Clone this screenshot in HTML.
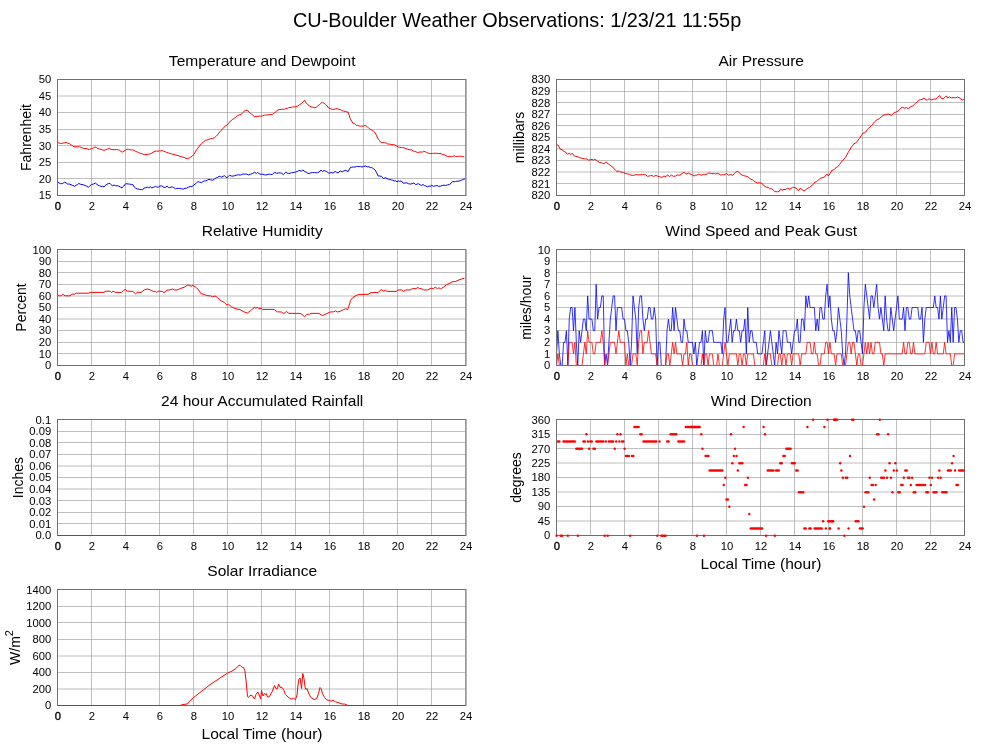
<!DOCTYPE html>
<html><head><meta charset="utf-8"><title>CU-Boulder Weather Observations</title>
<style>html,body{margin:0;padding:0;background:#fff;}svg{display:block;will-change:transform;}text{font-family:"Liberation Sans", sans-serif;fill:#000;}</style>
</head><body>
<svg width="1000" height="745" viewBox="0 0 1000 745">
<rect x="0" y="0" width="1000" height="745" fill="#ffffff"/>
<text x="517.1" y="26.8" font-size="19.85" text-anchor="middle">CU-Boulder Weather Observations: 1/23/21 11:55p</text>
<line x1="91.50" y1="79.5" x2="91.50" y2="195.5" stroke="rgba(155,155,155,0.64)" stroke-width="1"/>
<line x1="125.50" y1="79.5" x2="125.50" y2="195.5" stroke="rgba(155,155,155,0.64)" stroke-width="1"/>
<line x1="159.50" y1="79.5" x2="159.50" y2="195.5" stroke="rgba(155,155,155,0.64)" stroke-width="1"/>
<line x1="193.50" y1="79.5" x2="193.50" y2="195.5" stroke="rgba(155,155,155,0.64)" stroke-width="1"/>
<line x1="227.50" y1="79.5" x2="227.50" y2="195.5" stroke="rgba(155,155,155,0.64)" stroke-width="1"/>
<line x1="261.50" y1="79.5" x2="261.50" y2="195.5" stroke="rgba(155,155,155,0.64)" stroke-width="1"/>
<line x1="295.50" y1="79.5" x2="295.50" y2="195.5" stroke="rgba(155,155,155,0.64)" stroke-width="1"/>
<line x1="329.50" y1="79.5" x2="329.50" y2="195.5" stroke="rgba(155,155,155,0.64)" stroke-width="1"/>
<line x1="363.50" y1="79.5" x2="363.50" y2="195.5" stroke="rgba(155,155,155,0.64)" stroke-width="1"/>
<line x1="397.50" y1="79.5" x2="397.50" y2="195.5" stroke="rgba(155,155,155,0.64)" stroke-width="1"/>
<line x1="431.50" y1="79.5" x2="431.50" y2="195.5" stroke="rgba(155,155,155,0.64)" stroke-width="1"/>
<text x="51.2" y="199" font-size="11.25" text-anchor="end">15</text>
<line x1="57.5" y1="178.50" x2="465.5" y2="178.50" stroke="rgba(155,155,155,0.64)" stroke-width="1"/>
<text x="51.2" y="183" font-size="11.25" text-anchor="end">20</text>
<line x1="57.5" y1="162.50" x2="465.5" y2="162.50" stroke="rgba(155,155,155,0.64)" stroke-width="1"/>
<text x="51.2" y="166" font-size="11.25" text-anchor="end">25</text>
<line x1="57.5" y1="145.50" x2="465.5" y2="145.50" stroke="rgba(155,155,155,0.64)" stroke-width="1"/>
<text x="51.2" y="150" font-size="11.25" text-anchor="end">30</text>
<line x1="57.5" y1="129.50" x2="465.5" y2="129.50" stroke="rgba(155,155,155,0.64)" stroke-width="1"/>
<text x="51.2" y="133" font-size="11.25" text-anchor="end">35</text>
<line x1="57.5" y1="112.50" x2="465.5" y2="112.50" stroke="rgba(155,155,155,0.64)" stroke-width="1"/>
<text x="51.2" y="116" font-size="11.25" text-anchor="end">40</text>
<line x1="57.5" y1="96.00" x2="465.5" y2="96.00" stroke="rgba(155,155,155,0.64)" stroke-width="1"/>
<text x="51.2" y="100" font-size="11.25" text-anchor="end">45</text>
<text x="51.2" y="83" font-size="11.25" text-anchor="end">50</text>
<text x="58.00" y="210.0" font-size="11.25" text-anchor="middle" stroke="#000" stroke-width="0.35">0</text>
<text x="92.00" y="210.0" font-size="11.25" text-anchor="middle">2</text>
<text x="126.00" y="210.0" font-size="11.25" text-anchor="middle">4</text>
<text x="160.00" y="210.0" font-size="11.25" text-anchor="middle">6</text>
<text x="194.00" y="210.0" font-size="11.25" text-anchor="middle">8</text>
<text x="228.00" y="210.0" font-size="11.25" text-anchor="middle">10</text>
<text x="262.00" y="210.0" font-size="11.25" text-anchor="middle">12</text>
<text x="296.00" y="210.0" font-size="11.25" text-anchor="middle">14</text>
<text x="330.00" y="210.0" font-size="11.25" text-anchor="middle">16</text>
<text x="364.00" y="210.0" font-size="11.25" text-anchor="middle">18</text>
<text x="398.00" y="210.0" font-size="11.25" text-anchor="middle">20</text>
<text x="432.00" y="210.0" font-size="11.25" text-anchor="middle">22</text>
<text x="466.00" y="210.0" font-size="11.25" text-anchor="middle">24</text>
<text x="262.2" y="66.0" font-size="15.55" text-anchor="middle">Temperature and Dewpoint</text>
<text transform="translate(31.4,137.5) rotate(-90)" font-size="14" text-anchor="middle">Fahrenheit</text>
<polyline points="57.56,181.43 59.18,183.07 60.80,183.78 62.60,183.48 64.40,182.29 66.00,182.85 67.60,184.01 69.20,184.08 71.00,184.67 72.80,185.52 74.60,186.28 76.00,185.23 77.40,184.68 78.80,183.53 80.40,184.18 82.00,184.64 83.60,184.87 85.20,185.54 86.80,186.22 88.40,187.33 89.90,185.97 91.40,184.55 93.38,184.06 95.36,183.07 98.00,185.22 99.50,185.76 101.00,186.35 102.50,186.35 104.00,186.93 105.50,185.16 107.00,184.26 108.50,183.49 110.00,183.40 112.40,185.91 114.00,184.98 115.60,185.82 117.20,185.69 118.80,186.19 120.40,187.09 122.00,187.79 123.80,186.01 125.60,183.74 127.04,183.83 128.48,184.01 129.92,184.10 131.36,184.56 132.80,184.54 134.30,187.10 135.80,188.32 137.60,188.93 139.40,189.37 141.20,189.45 142.70,189.85 144.20,187.93 145.70,187.80 147.20,187.01 148.70,187.74 150.20,186.84 151.70,187.82 153.20,187.44 155.60,186.40 156.80,187.21 158.40,187.06 160.00,186.04 161.60,185.82 164.10,187.46 165.51,187.52 166.92,185.98 168.33,187.43 169.74,187.62 171.15,187.01 172.56,187.02 173.97,187.51 175.38,188.81 176.79,188.45 178.20,188.38 179.61,188.42 181.51,188.78 183.42,189.14 185.04,188.17 186.66,188.22 188.42,187.10 190.19,186.63 191.95,186.41 193.71,185.20 195.12,184.17 196.53,182.84 197.94,181.68 199.70,182.16 201.47,182.69 202.88,181.59 204.29,180.91 205.70,180.85 207.34,180.08 208.99,179.28 210.63,179.83 212.75,180.24 214.51,178.94 216.27,177.86 217.68,177.43 219.09,176.27 220.50,176.70 221.91,177.12 224.31,175.65 226.85,177.80 228.26,176.45 229.67,175.25 231.43,176.05 233.19,176.10 234.95,175.61 236.72,175.00 238.48,174.83 240.24,175.05 241.65,174.65 243.06,173.93 244.83,174.15 246.59,174.06 248.70,175.00 250.47,174.25 252.23,173.61 254.62,172.33 256.46,173.46 257.45,172.44 259.98,174.15 261.39,174.36 262.80,174.13 264.21,174.77 265.62,174.89 267.03,174.77 268.84,174.14 270.64,174.48 272.45,174.49 274.56,172.28 276.68,173.34 278.44,172.96 280.20,172.95 281.75,173.29 283.30,174.60 285.84,172.12 287.25,173.17 288.66,173.62 290.07,173.27 291.48,172.64 292.89,172.58 294.30,172.27 295.71,172.11 297.12,171.57 298.53,170.74 299.94,170.49 301.35,171.35 302.76,169.91 304.88,171.66 306.29,172.24 307.70,173.14 309.11,173.63 310.87,172.72 312.63,172.59 314.39,172.56 316.16,172.70 317.57,172.69 318.98,172.01 321.09,170.17 322.50,171.52 324.19,170.51 326.73,171.60 328.85,173.16 330.96,172.67 333.08,172.97 335.19,171.45 336.60,172.27 338.01,172.91 340.13,170.98 342.24,171.87 344.01,170.84 345.77,170.53 348.16,171.53 350.28,167.61 351.90,167.13 353.52,166.96 354.93,167.13 356.34,166.41 357.75,166.56 359.16,166.57 360.57,166.35 361.98,167.09 363.17,166.51 365.56,166.10 367.40,166.77 368.81,166.71 370.22,167.61 371.63,167.51 373.39,168.59 375.15,170.00 376.56,172.51 377.97,175.90 379.73,176.00 381.50,176.44 383.61,178.44 385.73,177.78 387.14,178.65 388.55,179.12 389.96,179.53 391.37,180.01 392.78,180.23 394.19,180.99 395.60,180.72 397.01,181.82 398.42,180.93 399.83,181.40 401.24,180.80 403.35,183.31 405.11,182.88 406.88,182.96 408.64,183.76 410.40,184.08 412.16,183.61 413.93,182.98 415.34,184.39 416.75,184.34 418.16,183.67 420.27,184.81 421.68,185.45 423.09,184.48 424.50,185.59 425.91,185.98 427.32,186.80 429.08,186.01 430.85,186.26 431.55,185.20 433.67,186.38 435.78,185.69 437.19,185.57 438.60,186.39 440.36,186.13 442.13,185.56 443.89,185.19 445.65,185.45 447.42,184.96 449.18,184.50 450.94,183.47 452.70,181.44 454.11,181.72 455.52,181.44 457.29,181.21 459.05,181.15 460.81,180.36 462.57,179.68 463.98,179.18 465.39,178.62" fill="none" stroke="#0000ff" stroke-width="1.0" stroke-linejoin="round"/>
<polyline points="57.56,142.41 59.18,143.09 60.80,143.51 62.60,143.19 64.40,142.83 66.20,142.24 67.70,143.19 69.20,143.42 70.80,144.69 72.40,145.62 74.00,146.68 75.80,146.72 77.60,146.72 79.40,146.68 81.20,147.30 83.00,148.25 84.80,148.57 86.40,148.48 88.00,149.24 89.60,149.48 91.40,148.62 93.20,148.10 95.00,146.92 96.50,147.41 98.00,148.70 99.50,149.03 101.00,149.31 102.50,149.81 104.00,150.32 105.80,149.76 107.60,148.99 109.40,148.41 111.20,149.49 113.00,149.68 114.80,149.60 116.60,149.63 118.40,149.82 119.80,150.34 121.20,151.65 122.60,151.98 124.00,151.07 125.40,150.31 126.80,149.19 128.30,149.36 129.80,149.69 131.30,149.86 132.80,149.86 134.30,150.48 135.80,151.49 137.30,151.99 138.80,152.55 140.60,153.52 142.40,153.78 144.20,154.67 146.00,154.61 147.80,154.32 149.60,154.05 151.40,153.31 153.20,152.21 155.00,151.28 156.44,151.03 157.88,151.33 159.32,150.79 160.76,150.96 162.20,150.64 163.71,151.10 165.22,151.88 166.72,152.39 168.23,152.95 169.74,153.24 171.15,153.84 172.56,154.31 173.97,154.53 175.38,154.94 176.79,155.34 178.20,155.43 179.79,156.41 181.37,156.39 182.96,157.31 184.55,157.52 185.96,158.40 187.37,158.47 188.92,158.23 190.47,157.25 192.02,156.35 193.92,154.34 195.83,151.13 197.24,149.03 198.65,147.14 200.06,145.18 201.82,143.33 203.58,141.85 205.34,140.38 207.11,140.04 208.87,139.19 210.63,138.74 212.39,138.48 214.16,138.04 215.78,136.64 217.40,135.00 218.95,133.05 220.50,131.04 221.91,129.75 223.32,128.11 225.44,125.76 227.27,125.10 228.82,123.17 230.37,121.13 232.13,119.77 233.90,118.45 235.66,117.36 237.42,115.79 239.18,114.89 240.95,114.73 242.71,112.59 244.47,110.96 245.88,110.54 247.29,110.03 249.06,112.15 250.82,113.59 252.58,115.03 254.34,116.64 256.11,116.64 257.87,116.48 259.63,116.08 261.39,116.15 262.80,115.61 264.21,115.05 265.62,115.17 267.33,114.86 269.03,114.64 270.74,114.58 272.45,114.30 273.86,113.53 275.27,112.04 276.68,110.92 278.09,109.97 279.67,109.45 281.26,109.59 282.84,109.20 284.43,109.27 285.84,108.51 287.25,108.41 288.66,107.66 290.07,107.54 291.48,107.25 292.89,106.97 294.30,106.89 296.06,106.72 297.83,105.95 299.59,104.65 301.35,103.65 302.90,102.07 304.45,100.30 306.08,102.79 307.70,104.58 309.46,105.83 311.22,106.95 312.87,107.20 314.51,107.75 316.16,107.42 317.92,105.70 319.68,104.60 321.09,103.09 322.50,102.24 323.91,103.13 325.32,104.18 327.08,105.94 328.85,108.20 330.61,108.62 332.37,109.57 334.02,109.27 335.66,108.82 337.31,108.56 338.95,109.40 340.60,109.61 342.24,110.73 343.72,111.10 345.20,111.46 346.68,111.77 348.16,112.21 350.28,118.84 352.82,122.98 354.58,123.73 356.34,125.43 357.75,125.40 359.16,126.01 360.57,126.15 361.98,126.15 363.39,126.08 365.56,125.30 367.18,126.58 368.81,128.32 370.57,129.45 372.33,130.30 373.74,131.53 375.15,132.60 376.56,135.62 377.97,138.89 379.38,140.27 380.79,142.36 382.55,142.59 384.32,142.69 385.96,142.89 387.61,143.98 389.25,144.09 390.66,144.36 392.07,144.49 393.48,144.62 394.89,145.00 396.65,146.15 398.42,147.00 399.83,147.29 401.24,147.59 402.65,147.54 404.29,147.95 405.94,148.70 407.58,149.19 408.99,149.65 410.40,149.79 411.81,150.05 413.22,151.07 414.63,151.41 416.04,151.82 417.45,152.49 419.21,152.16 420.98,151.98 422.39,152.11 423.80,151.09 425.21,151.92 426.62,152.31 428.03,153.17 429.44,153.57 430.85,153.62 432.26,153.33 433.67,153.52 435.08,153.10 436.72,153.40 438.37,153.51 440.01,153.50 441.42,153.89 442.83,154.69 444.24,154.61 446.01,155.80 447.77,156.54 449.53,156.63 451.29,156.63 452.70,156.65 454.11,155.70 455.52,156.32 456.93,156.48 458.34,156.31 459.75,156.31 461.16,156.28 462.57,156.45 464.27,157.04" fill="none" stroke="#ff0000" stroke-width="1.0" stroke-linejoin="round"/>
<line x1="465.5" y1="79.5" x2="465.5" y2="195.5" stroke="rgba(155,155,155,0.64)" stroke-width="1"/><rect x="57.5" y="79.5" width="408.5" height="116.0" fill="none" stroke="#707070" stroke-width="1"/>
<line x1="590.50" y1="79.5" x2="590.50" y2="195.5" stroke="rgba(155,155,155,0.64)" stroke-width="1"/>
<line x1="624.50" y1="79.5" x2="624.50" y2="195.5" stroke="rgba(155,155,155,0.64)" stroke-width="1"/>
<line x1="658.50" y1="79.5" x2="658.50" y2="195.5" stroke="rgba(155,155,155,0.64)" stroke-width="1"/>
<line x1="692.50" y1="79.5" x2="692.50" y2="195.5" stroke="rgba(155,155,155,0.64)" stroke-width="1"/>
<line x1="726.50" y1="79.5" x2="726.50" y2="195.5" stroke="rgba(155,155,155,0.64)" stroke-width="1"/>
<line x1="760.50" y1="79.5" x2="760.50" y2="195.5" stroke="rgba(155,155,155,0.64)" stroke-width="1"/>
<line x1="794.50" y1="79.5" x2="794.50" y2="195.5" stroke="rgba(155,155,155,0.64)" stroke-width="1"/>
<line x1="828.50" y1="79.5" x2="828.50" y2="195.5" stroke="rgba(155,155,155,0.64)" stroke-width="1"/>
<line x1="862.50" y1="79.5" x2="862.50" y2="195.5" stroke="rgba(155,155,155,0.64)" stroke-width="1"/>
<line x1="896.50" y1="79.5" x2="896.50" y2="195.5" stroke="rgba(155,155,155,0.64)" stroke-width="1"/>
<line x1="930.50" y1="79.5" x2="930.50" y2="195.5" stroke="rgba(155,155,155,0.64)" stroke-width="1"/>
<text x="550.2" y="199" font-size="11.25" text-anchor="end">820</text>
<line x1="556.5" y1="183.50" x2="964.5" y2="183.50" stroke="rgba(155,155,155,0.64)" stroke-width="1"/>
<text x="550.2" y="188" font-size="11.25" text-anchor="end">821</text>
<line x1="556.5" y1="172.00" x2="964.5" y2="172.00" stroke="rgba(155,155,155,0.64)" stroke-width="1"/>
<text x="550.2" y="176" font-size="11.25" text-anchor="end">822</text>
<line x1="556.5" y1="160.50" x2="964.5" y2="160.50" stroke="rgba(155,155,155,0.64)" stroke-width="1"/>
<text x="550.2" y="164" font-size="11.25" text-anchor="end">823</text>
<line x1="556.5" y1="149.00" x2="964.5" y2="149.00" stroke="rgba(155,155,155,0.64)" stroke-width="1"/>
<text x="550.2" y="153" font-size="11.25" text-anchor="end">824</text>
<line x1="556.5" y1="137.50" x2="964.5" y2="137.50" stroke="rgba(155,155,155,0.64)" stroke-width="1"/>
<text x="550.2" y="141" font-size="11.25" text-anchor="end">825</text>
<line x1="556.5" y1="125.50" x2="964.5" y2="125.50" stroke="rgba(155,155,155,0.64)" stroke-width="1"/>
<text x="550.2" y="130" font-size="11.25" text-anchor="end">826</text>
<line x1="556.5" y1="114.50" x2="964.5" y2="114.50" stroke="rgba(155,155,155,0.64)" stroke-width="1"/>
<text x="550.2" y="118" font-size="11.25" text-anchor="end">827</text>
<line x1="556.5" y1="102.50" x2="964.5" y2="102.50" stroke="rgba(155,155,155,0.64)" stroke-width="1"/>
<text x="550.2" y="107" font-size="11.25" text-anchor="end">828</text>
<line x1="556.5" y1="91.50" x2="964.5" y2="91.50" stroke="rgba(155,155,155,0.64)" stroke-width="1"/>
<text x="550.2" y="95" font-size="11.25" text-anchor="end">829</text>
<text x="550.2" y="83" font-size="11.25" text-anchor="end">830</text>
<text x="557.00" y="210.0" font-size="11.25" text-anchor="middle" stroke="#000" stroke-width="0.35">0</text>
<text x="591.00" y="210.0" font-size="11.25" text-anchor="middle">2</text>
<text x="625.00" y="210.0" font-size="11.25" text-anchor="middle">4</text>
<text x="659.00" y="210.0" font-size="11.25" text-anchor="middle">6</text>
<text x="693.00" y="210.0" font-size="11.25" text-anchor="middle">8</text>
<text x="727.00" y="210.0" font-size="11.25" text-anchor="middle">10</text>
<text x="761.00" y="210.0" font-size="11.25" text-anchor="middle">12</text>
<text x="795.00" y="210.0" font-size="11.25" text-anchor="middle">14</text>
<text x="829.00" y="210.0" font-size="11.25" text-anchor="middle">16</text>
<text x="863.00" y="210.0" font-size="11.25" text-anchor="middle">18</text>
<text x="897.00" y="210.0" font-size="11.25" text-anchor="middle">20</text>
<text x="931.00" y="210.0" font-size="11.25" text-anchor="middle">22</text>
<text x="965.00" y="210.0" font-size="11.25" text-anchor="middle">24</text>
<text x="761.2" y="66.0" font-size="15.55" text-anchor="middle">Air Pressure</text>
<text transform="translate(524.0,137.5) rotate(-90)" font-size="14" text-anchor="middle">millibars</text>
<polyline points="556.76,145.04 558.17,145.05 560.28,149.17 562.04,149.63 563.81,151.37 565.57,152.11 567.33,154.21 569.45,153.29 570.86,154.56 572.27,153.11 574.38,156.01 576.14,156.41 577.91,156.86 579.67,157.78 581.43,158.14 582.84,158.50 584.25,158.91 585.66,158.89 587.07,159.10 588.48,160.08 589.89,159.88 592.01,159.29 593.42,160.18 594.83,159.31 596.24,160.26 597.65,161.18 599.41,162.48 601.17,162.69 602.58,163.22 603.99,163.84 606.11,161.78 608.22,164.04 609.63,164.64 611.04,166.12 612.45,166.76 613.86,168.65 615.27,169.85 616.68,171.20 618.09,171.33 619.50,171.19 620.91,172.20 622.32,172.14 623.73,172.64 625.14,173.33 626.55,173.74 627.96,174.08 629.37,174.23 630.78,174.99 632.19,175.40 633.60,175.38 635.36,174.77 637.13,174.57 638.54,174.86 639.95,174.83 641.36,174.62 642.77,174.65 644.18,174.64 645.59,174.87 647.70,176.41 649.11,176.00 650.52,175.65 651.93,175.38 653.34,176.51 654.75,175.92 656.16,175.44 657.93,176.32 659.69,176.58 661.80,177.49 663.92,176.06 666.03,176.64 667.44,174.81 668.99,176.05 669.33,176.62 671.45,175.12 673.56,176.37 675.32,176.13 677.09,174.95 678.50,175.09 679.91,175.27 682.02,173.52 684.14,172.27 685.55,173.49 686.96,174.06 688.37,173.11 689.78,173.80 691.19,174.37 692.60,174.94 694.01,176.14 695.42,175.28 696.83,175.15 698.24,174.32 699.65,174.32 701.06,175.31 703.17,174.53 704.58,174.46 705.99,174.36 707.40,173.93 708.81,172.97 710.22,173.30 711.63,173.42 713.04,173.75 714.45,173.51 715.86,174.09 717.27,173.36 719.03,173.93 720.80,175.11 722.21,174.77 723.62,174.74 725.03,174.48 726.44,173.45 728.55,175.23 730.67,174.44 732.78,175.44 734.19,173.71 735.60,172.20 737.72,171.24 739.13,172.75 740.54,173.92 741.95,175.02 743.36,175.54 745.12,176.01 746.88,176.47 748.29,177.06 749.70,178.46 751.11,179.39 752.52,179.60 753.93,181.07 755.34,181.96 757.46,183.01 759.57,182.73 760.98,183.06 762.39,183.86 764.51,186.25 766.27,187.16 768.03,187.25 769.51,188.65 770.99,188.83 771.33,188.68 773.09,189.95 774.86,191.59 776.27,191.76 777.68,191.69 779.09,191.69 780.50,188.98 781.91,190.18 784.02,189.53 786.14,189.53 787.55,187.96 789.66,189.26 791.07,188.26 792.48,187.53 793.89,187.23 796.01,188.01 798.40,190.88 800.24,188.11 801.65,189.09 803.06,190.72 804.82,190.62 806.58,189.00 807.99,188.01 809.40,187.67 810.81,186.32 812.22,185.24 813.63,184.21 815.04,181.97 816.45,181.68 817.86,180.46 819.27,179.29 820.68,178.36 822.09,177.78 824.21,177.17 825.62,175.33 827.03,174.10 828.44,176.04 830.20,173.31 831.96,170.16 833.37,170.21 834.78,168.65 836.19,167.52 837.60,166.88 839.36,164.68 841.13,162.39 843.24,159.84 845.36,157.64 846.77,155.14 848.18,152.44 849.59,150.18 851.00,147.44 852.41,145.89 853.82,143.75 855.23,143.16 856.64,142.29 858.05,140.31 859.46,138.41 861.22,135.77 862.98,133.05 864.39,132.79 865.80,131.97 867.21,129.70 868.62,128.27 870.03,126.80 871.44,125.69 872.99,124.14 873.33,123.35 874.74,121.68 876.15,120.33 877.91,119.37 879.68,118.23 881.44,116.71 883.20,115.51 884.96,114.83 886.73,114.30 888.84,114.14 891.24,115.42 893.78,113.00 895.19,112.33 896.60,111.88 898.01,111.11 899.42,109.56 900.83,108.25 902.24,107.14 904.35,108.29 906.47,107.68 908.30,108.63 910.70,106.58 912.81,105.97 914.22,104.57 915.63,103.31 917.39,101.61 919.16,100.21 920.57,99.52 921.98,99.55 924.09,97.85 926.21,100.04 927.62,99.85 929.03,98.82 930.44,99.41 931.85,99.96 933.26,99.24 934.67,98.97 936.08,99.08 937.49,97.57 939.60,95.45 941.29,98.30 943.13,98.74 945.24,97.03 946.37,95.88 947.64,97.94 949.47,96.93 951.59,97.93 953.00,97.66 954.41,97.64 955.82,97.83 957.65,96.94 960.05,98.19 962.16,100.06 963.86,99.15" fill="none" stroke="#ff0000" stroke-width="1.0" stroke-linejoin="round"/>
<rect x="556.5" y="79.5" width="408.0" height="116.0" fill="none" stroke="#707070" stroke-width="1"/>
<line x1="91.50" y1="249.5" x2="91.50" y2="365.5" stroke="rgba(155,155,155,0.64)" stroke-width="1"/>
<line x1="125.50" y1="249.5" x2="125.50" y2="365.5" stroke="rgba(155,155,155,0.64)" stroke-width="1"/>
<line x1="159.50" y1="249.5" x2="159.50" y2="365.5" stroke="rgba(155,155,155,0.64)" stroke-width="1"/>
<line x1="193.50" y1="249.5" x2="193.50" y2="365.5" stroke="rgba(155,155,155,0.64)" stroke-width="1"/>
<line x1="227.50" y1="249.5" x2="227.50" y2="365.5" stroke="rgba(155,155,155,0.64)" stroke-width="1"/>
<line x1="261.50" y1="249.5" x2="261.50" y2="365.5" stroke="rgba(155,155,155,0.64)" stroke-width="1"/>
<line x1="295.50" y1="249.5" x2="295.50" y2="365.5" stroke="rgba(155,155,155,0.64)" stroke-width="1"/>
<line x1="329.50" y1="249.5" x2="329.50" y2="365.5" stroke="rgba(155,155,155,0.64)" stroke-width="1"/>
<line x1="363.50" y1="249.5" x2="363.50" y2="365.5" stroke="rgba(155,155,155,0.64)" stroke-width="1"/>
<line x1="397.50" y1="249.5" x2="397.50" y2="365.5" stroke="rgba(155,155,155,0.64)" stroke-width="1"/>
<line x1="431.50" y1="249.5" x2="431.50" y2="365.5" stroke="rgba(155,155,155,0.64)" stroke-width="1"/>
<text x="51.2" y="369" font-size="11.25" text-anchor="end">0</text>
<line x1="57.5" y1="353.50" x2="465.5" y2="353.50" stroke="rgba(155,155,155,0.64)" stroke-width="1"/>
<text x="51.2" y="358" font-size="11.25" text-anchor="end">10</text>
<line x1="57.5" y1="342.50" x2="465.5" y2="342.50" stroke="rgba(155,155,155,0.64)" stroke-width="1"/>
<text x="51.2" y="346" font-size="11.25" text-anchor="end">20</text>
<line x1="57.5" y1="330.50" x2="465.5" y2="330.50" stroke="rgba(155,155,155,0.64)" stroke-width="1"/>
<text x="51.2" y="334" font-size="11.25" text-anchor="end">30</text>
<line x1="57.5" y1="319.00" x2="465.5" y2="319.00" stroke="rgba(155,155,155,0.64)" stroke-width="1"/>
<text x="51.2" y="323" font-size="11.25" text-anchor="end">40</text>
<line x1="57.5" y1="307.50" x2="465.5" y2="307.50" stroke="rgba(155,155,155,0.64)" stroke-width="1"/>
<text x="51.2" y="311" font-size="11.25" text-anchor="end">50</text>
<line x1="57.5" y1="296.00" x2="465.5" y2="296.00" stroke="rgba(155,155,155,0.64)" stroke-width="1"/>
<text x="51.2" y="300" font-size="11.25" text-anchor="end">60</text>
<line x1="57.5" y1="284.50" x2="465.5" y2="284.50" stroke="rgba(155,155,155,0.64)" stroke-width="1"/>
<text x="51.2" y="288" font-size="11.25" text-anchor="end">70</text>
<line x1="57.5" y1="272.50" x2="465.5" y2="272.50" stroke="rgba(155,155,155,0.64)" stroke-width="1"/>
<text x="51.2" y="277" font-size="11.25" text-anchor="end">80</text>
<line x1="57.5" y1="261.50" x2="465.5" y2="261.50" stroke="rgba(155,155,155,0.64)" stroke-width="1"/>
<text x="51.2" y="265" font-size="11.25" text-anchor="end">90</text>
<text x="51.2" y="254" font-size="11.25" text-anchor="end">100</text>
<text x="58.00" y="380.0" font-size="11.25" text-anchor="middle" stroke="#000" stroke-width="0.35">0</text>
<text x="92.00" y="380.0" font-size="11.25" text-anchor="middle">2</text>
<text x="126.00" y="380.0" font-size="11.25" text-anchor="middle">4</text>
<text x="160.00" y="380.0" font-size="11.25" text-anchor="middle">6</text>
<text x="194.00" y="380.0" font-size="11.25" text-anchor="middle">8</text>
<text x="228.00" y="380.0" font-size="11.25" text-anchor="middle">10</text>
<text x="262.00" y="380.0" font-size="11.25" text-anchor="middle">12</text>
<text x="296.00" y="380.0" font-size="11.25" text-anchor="middle">14</text>
<text x="330.00" y="380.0" font-size="11.25" text-anchor="middle">16</text>
<text x="364.00" y="380.0" font-size="11.25" text-anchor="middle">18</text>
<text x="398.00" y="380.0" font-size="11.25" text-anchor="middle">20</text>
<text x="432.00" y="380.0" font-size="11.25" text-anchor="middle">22</text>
<text x="466.00" y="380.0" font-size="11.25" text-anchor="middle">24</text>
<text x="262.2" y="236.0" font-size="15.55" text-anchor="middle">Relative Humidity</text>
<text transform="translate(26.0,307.5) rotate(-90)" font-size="14" text-anchor="middle">Percent</text>
<polyline points="57.56,294.64 59.60,295.96 61.40,295.60 63.20,294.16 65.00,295.84 69.80,295.84 72.20,294.16 74.60,294.16 76.40,293.20 88.40,293.20 90.80,292.36 104.00,292.36 105.80,291.16 110.00,291.16 111.56,292.60 113.00,291.16 115.40,292.36 121.40,292.36 123.80,290.20 125.36,289.60 127.40,291.16 132.80,291.40 135.44,293.80 137.60,292.36 141.20,292.36 144.20,289.96 147.20,289.00 150.20,289.84 153.20,291.40 155.60,291.40 156.80,292.36 158.60,291.16 162.20,291.40 164.00,292.60 167.00,290.20 170.00,289.84 172.40,289.00 174.20,289.96 177.20,289.96 180.80,288.40 184.40,287.20 187.40,285.16 189.80,285.40 191.00,286.36 192.80,285.40 195.20,286.84 198.20,289.36 201.20,293.80 204.20,294.40 206.60,295.60 210.80,295.96 212.60,296.80 215.00,295.96 217.40,297.40 221.00,300.76 224.00,302.20 227.00,305.20 228.20,304.00 231.80,307.00 236.00,308.80 240.20,309.76 243.80,311.80 247.40,313.00 250.40,310.84 254.60,307.24 255.80,308.20 257.36,307.24 258.80,308.44 261.20,308.44 262.40,309.40 272.00,309.40 274.40,309.64 277.40,311.80 281.60,312.04 283.76,313.60 286.40,311.56 288.80,313.36 300.20,313.36 302.60,314.80 304.40,316.84 306.80,314.44 309.80,314.20 311.00,313.36 318.80,313.36 322.64,315.64 326.00,313.96 330.20,312.04 333.80,311.80 335.60,310.84 337.40,312.04 340.40,311.20 343.40,309.64 345.80,308.80 347.60,309.64 348.80,306.40 350.60,300.40 353.00,297.40 356.00,295.60 359.00,294.40 368.00,294.40 371.00,292.60 374.00,292.60 378.20,292.36 381.20,289.60 383.60,291.16 385.40,290.20 387.20,291.40 396.20,291.40 398.00,289.96 401.60,289.96 403.40,291.40 405.80,289.96 410.00,289.96 412.40,288.64 416.00,288.64 417.80,287.44 419.60,288.64 421.40,288.64 423.80,289.96 427.40,289.96 431.00,288.16 433.40,288.64 435.20,287.20 437.60,288.76 438.80,287.80 440.60,288.76 443.60,287.20 446.60,284.56 449.00,283.84 452.00,281.80 455.60,281.56 458.00,280.24 461.60,279.04 464.36,278.20" fill="none" stroke="#ff0000" stroke-width="1.0" stroke-linejoin="round"/>
<line x1="465.5" y1="249.5" x2="465.5" y2="365.5" stroke="rgba(155,155,155,0.64)" stroke-width="1"/><rect x="57.5" y="249.5" width="408.5" height="116.0" fill="none" stroke="#707070" stroke-width="1"/>
<line x1="590.50" y1="249.5" x2="590.50" y2="365.5" stroke="rgba(155,155,155,0.64)" stroke-width="1"/>
<line x1="624.50" y1="249.5" x2="624.50" y2="365.5" stroke="rgba(155,155,155,0.64)" stroke-width="1"/>
<line x1="658.50" y1="249.5" x2="658.50" y2="365.5" stroke="rgba(155,155,155,0.64)" stroke-width="1"/>
<line x1="692.50" y1="249.5" x2="692.50" y2="365.5" stroke="rgba(155,155,155,0.64)" stroke-width="1"/>
<line x1="726.50" y1="249.5" x2="726.50" y2="365.5" stroke="rgba(155,155,155,0.64)" stroke-width="1"/>
<line x1="760.50" y1="249.5" x2="760.50" y2="365.5" stroke="rgba(155,155,155,0.64)" stroke-width="1"/>
<line x1="794.50" y1="249.5" x2="794.50" y2="365.5" stroke="rgba(155,155,155,0.64)" stroke-width="1"/>
<line x1="828.50" y1="249.5" x2="828.50" y2="365.5" stroke="rgba(155,155,155,0.64)" stroke-width="1"/>
<line x1="862.50" y1="249.5" x2="862.50" y2="365.5" stroke="rgba(155,155,155,0.64)" stroke-width="1"/>
<line x1="896.50" y1="249.5" x2="896.50" y2="365.5" stroke="rgba(155,155,155,0.64)" stroke-width="1"/>
<line x1="930.50" y1="249.5" x2="930.50" y2="365.5" stroke="rgba(155,155,155,0.64)" stroke-width="1"/>
<text x="550.2" y="369" font-size="11.25" text-anchor="end">0</text>
<line x1="556.5" y1="353.50" x2="964.5" y2="353.50" stroke="rgba(155,155,155,0.64)" stroke-width="1"/>
<text x="550.2" y="358" font-size="11.25" text-anchor="end">1</text>
<line x1="556.5" y1="342.50" x2="964.5" y2="342.50" stroke="rgba(155,155,155,0.64)" stroke-width="1"/>
<text x="550.2" y="346" font-size="11.25" text-anchor="end">2</text>
<line x1="556.5" y1="330.50" x2="964.5" y2="330.50" stroke="rgba(155,155,155,0.64)" stroke-width="1"/>
<text x="550.2" y="334" font-size="11.25" text-anchor="end">3</text>
<line x1="556.5" y1="319.00" x2="964.5" y2="319.00" stroke="rgba(155,155,155,0.64)" stroke-width="1"/>
<text x="550.2" y="323" font-size="11.25" text-anchor="end">4</text>
<line x1="556.5" y1="307.50" x2="964.5" y2="307.50" stroke="rgba(155,155,155,0.64)" stroke-width="1"/>
<text x="550.2" y="311" font-size="11.25" text-anchor="end">5</text>
<line x1="556.5" y1="296.00" x2="964.5" y2="296.00" stroke="rgba(155,155,155,0.64)" stroke-width="1"/>
<text x="550.2" y="300" font-size="11.25" text-anchor="end">6</text>
<line x1="556.5" y1="284.50" x2="964.5" y2="284.50" stroke="rgba(155,155,155,0.64)" stroke-width="1"/>
<text x="550.2" y="288" font-size="11.25" text-anchor="end">7</text>
<line x1="556.5" y1="272.50" x2="964.5" y2="272.50" stroke="rgba(155,155,155,0.64)" stroke-width="1"/>
<text x="550.2" y="277" font-size="11.25" text-anchor="end">8</text>
<line x1="556.5" y1="261.50" x2="964.5" y2="261.50" stroke="rgba(155,155,155,0.64)" stroke-width="1"/>
<text x="550.2" y="265" font-size="11.25" text-anchor="end">9</text>
<text x="550.2" y="254" font-size="11.25" text-anchor="end">10</text>
<text x="557.00" y="380.0" font-size="11.25" text-anchor="middle" stroke="#000" stroke-width="0.35">0</text>
<text x="591.00" y="380.0" font-size="11.25" text-anchor="middle">2</text>
<text x="625.00" y="380.0" font-size="11.25" text-anchor="middle">4</text>
<text x="659.00" y="380.0" font-size="11.25" text-anchor="middle">6</text>
<text x="693.00" y="380.0" font-size="11.25" text-anchor="middle">8</text>
<text x="727.00" y="380.0" font-size="11.25" text-anchor="middle">10</text>
<text x="761.00" y="380.0" font-size="11.25" text-anchor="middle">12</text>
<text x="795.00" y="380.0" font-size="11.25" text-anchor="middle">14</text>
<text x="829.00" y="380.0" font-size="11.25" text-anchor="middle">16</text>
<text x="863.00" y="380.0" font-size="11.25" text-anchor="middle">18</text>
<text x="897.00" y="380.0" font-size="11.25" text-anchor="middle">20</text>
<text x="931.00" y="380.0" font-size="11.25" text-anchor="middle">22</text>
<text x="965.00" y="380.0" font-size="11.25" text-anchor="middle">24</text>
<text x="761.2" y="236.0" font-size="15.55" text-anchor="middle">Wind Speed and Peak Gust</text>
<text transform="translate(531.0,307.5) rotate(-90)" font-size="14" text-anchor="middle">miles/hour</text>
<polyline points="556.50,353.90 557.92,330.70 559.33,353.90 560.75,365.50 562.17,365.50 563.58,342.30 565.00,342.30 566.42,330.70 567.83,365.50 569.25,319.10 570.67,307.50 572.08,307.50 573.50,330.70 574.92,307.50 576.33,342.30 577.75,365.50 579.17,330.70 580.58,342.30 582.00,330.70 583.42,319.10 584.83,319.10 586.25,330.70 587.67,295.90 589.08,319.10 590.50,319.10 591.92,319.10 593.33,330.70 594.75,330.70 596.17,284.30 597.58,319.10 599.00,307.50 600.42,307.50 601.83,295.90 603.25,295.90 604.67,365.50 606.08,353.90 607.50,365.50 608.92,342.30 610.33,319.10 611.75,307.50 613.17,295.90 614.58,295.90 616.00,330.70 617.42,307.50 618.83,307.50 620.25,307.50 621.67,307.50 623.08,319.10 624.50,319.10 625.92,330.70 627.33,330.70 628.75,342.30 630.17,365.50 631.58,342.30 633.00,295.90 634.42,307.50 635.83,319.10 637.25,353.90 638.67,307.50 640.08,295.90 641.50,295.90 642.92,319.10 644.33,330.70 645.75,319.10 647.17,319.10 648.58,307.50 650.00,307.50 651.42,319.10 652.83,319.10 654.25,307.50 655.67,319.10 657.08,365.50 658.50,342.30 659.92,342.30 661.33,365.50 662.75,365.50 664.17,365.50 665.58,365.50 667.00,330.70 668.42,319.10 669.83,330.70 671.25,330.70 672.67,307.50 674.08,330.70 675.50,307.50 676.92,319.10 678.33,330.70 679.75,330.70 681.17,342.30 682.58,342.30 684.00,319.10 685.42,330.70 686.83,330.70 688.25,342.30 689.67,342.30 691.08,342.30 692.50,342.30 693.92,353.90 695.33,342.30 696.75,365.50 698.17,353.90 699.58,342.30 701.00,342.30 702.42,330.70 703.83,365.50 705.25,330.70 706.67,342.30 708.08,342.30 709.50,330.70 710.92,330.70 712.33,330.70 713.75,342.30 715.17,342.30 716.58,342.30 718.00,342.30 719.42,342.30 720.83,342.30 722.25,353.90 723.67,319.10 725.08,307.50 726.50,342.30 727.92,342.30 729.33,330.70 730.75,319.10 732.17,342.30 733.58,330.70 735.00,330.70 736.42,319.10 737.83,330.70 739.25,330.70 740.67,342.30 742.08,330.70 743.50,330.70 744.92,319.10 746.33,353.90 747.75,307.50 749.17,342.30 750.58,330.70 752.00,330.70 753.42,342.30 754.83,342.30 756.25,342.30 757.67,353.90 759.08,353.90 760.50,353.90 761.92,353.90 763.33,342.30 764.75,330.70 766.17,365.50 767.58,353.90 769.00,342.30 770.42,330.70 771.83,342.30 773.25,353.90 774.67,365.50 776.08,342.30 777.50,353.90 778.92,330.70 780.33,342.30 781.75,353.90 783.17,330.70 784.58,330.70 786.00,330.70 787.42,342.30 788.83,342.30 790.25,342.30 791.67,353.90 793.08,342.30 794.50,330.70 795.92,330.70 797.33,319.10 798.75,342.30 800.17,342.30 801.58,319.10 803.00,319.10 804.42,330.70 805.83,295.90 807.25,307.50 808.67,295.90 810.08,307.50 811.50,307.50 812.92,307.50 814.33,307.50 815.75,330.70 817.17,319.10 818.58,330.70 820.00,307.50 821.42,307.50 822.83,319.10 824.25,319.10 825.67,295.90 827.08,284.30 828.50,307.50 829.92,295.90 831.33,319.10 832.75,330.70 834.17,330.70 835.58,342.30 837.00,330.70 838.42,307.50 839.83,319.10 841.25,330.70 842.67,353.90 844.08,365.50 845.50,353.90 846.92,319.10 848.33,272.70 849.75,295.90 851.17,307.50 852.58,319.10 854.00,330.70 855.42,330.70 856.83,342.30 858.25,330.70 859.67,330.70 861.08,342.30 862.50,353.90 863.92,307.50 865.33,284.30 866.75,295.90 868.17,307.50 869.58,319.10 871.00,295.90 872.42,295.90 873.83,307.50 875.25,295.90 876.67,284.30 878.08,307.50 879.50,319.10 880.92,307.50 882.33,319.10 883.75,330.70 885.17,295.90 886.58,319.10 888.00,330.70 889.42,330.70 890.83,307.50 892.25,319.10 893.67,330.70 895.08,319.10 896.50,307.50 897.92,295.90 899.33,319.10 900.75,319.10 902.17,319.10 903.58,307.50 905.00,330.70 906.42,307.50 907.83,307.50 909.25,319.10 910.67,319.10 912.08,307.50 913.50,307.50 914.92,307.50 916.33,307.50 917.75,307.50 919.17,319.10 920.58,319.10 922.00,307.50 923.42,342.30 924.83,319.10 926.25,307.50 927.67,307.50 929.08,307.50 930.50,307.50 931.92,307.50 933.33,307.50 934.75,295.90 936.17,307.50 937.58,307.50 939.00,319.10 940.42,295.90 941.83,319.10 943.25,307.50 944.67,295.90 946.08,295.90 947.50,342.30 948.92,330.70 950.33,342.30 951.75,307.50 953.17,342.30 954.58,307.50 956.00,307.50 957.42,319.10 958.83,342.30 960.25,330.70 961.67,330.70 963.08,342.30 964.50,342.30" fill="none" stroke="#0000ff" stroke-width="0.8" stroke-linejoin="round"/>
<polyline points="556.50,365.50 557.92,353.90 559.33,365.50 560.75,365.50 562.17,365.50 563.58,365.50 565.00,365.50 566.42,365.50 567.83,365.50 569.25,342.30 570.67,342.30 572.08,342.30 573.50,353.90 574.92,342.30 576.33,365.50 577.75,365.50 579.17,365.50 580.58,365.50 582.00,365.50 583.42,353.90 584.83,342.30 586.25,353.90 587.67,330.70 589.08,342.30 590.50,342.30 591.92,342.30 593.33,353.90 594.75,353.90 596.17,342.30 597.58,342.30 599.00,342.30 600.42,342.30 601.83,330.70 603.25,342.30 604.67,365.50 606.08,365.50 607.50,365.50 608.92,353.90 610.33,342.30 611.75,342.30 613.17,342.30 614.58,342.30 616.00,353.90 617.42,342.30 618.83,330.70 620.25,342.30 621.67,342.30 623.08,342.30 624.50,342.30 625.92,365.50 627.33,353.90 628.75,365.50 630.17,365.50 631.58,365.50 633.00,353.90 634.42,353.90 635.83,353.90 637.25,365.50 638.67,342.30 640.08,330.70 641.50,330.70 642.92,353.90 644.33,342.30 645.75,342.30 647.17,342.30 648.58,330.70 650.00,342.30 651.42,353.90 652.83,353.90 654.25,353.90 655.67,353.90 657.08,365.50 658.50,365.50 659.92,365.50 661.33,365.50 662.75,365.50 664.17,365.50 665.58,365.50 667.00,353.90 668.42,353.90 669.83,365.50 671.25,353.90 672.67,342.30 674.08,353.90 675.50,342.30 676.92,353.90 678.33,353.90 679.75,353.90 681.17,353.90 682.58,365.50 684.00,353.90 685.42,353.90 686.83,342.30 688.25,365.50 689.67,353.90 691.08,353.90 692.50,365.50 693.92,365.50 695.33,365.50 696.75,365.50 698.17,365.50 699.58,365.50 701.00,365.50 702.42,353.90 703.83,365.50 705.25,353.90 706.67,353.90 708.08,365.50 709.50,353.90 710.92,353.90 712.33,353.90 713.75,365.50 715.17,365.50 716.58,365.50 718.00,353.90 719.42,365.50 720.83,365.50 722.25,365.50 723.67,353.90 725.08,342.30 726.50,353.90 727.92,365.50 729.33,353.90 730.75,353.90 732.17,353.90 733.58,353.90 735.00,353.90 736.42,353.90 737.83,365.50 739.25,353.90 740.67,353.90 742.08,365.50 743.50,353.90 744.92,353.90 746.33,365.50 747.75,353.90 749.17,353.90 750.58,353.90 752.00,353.90 753.42,353.90 754.83,365.50 756.25,365.50 757.67,365.50 759.08,365.50 760.50,365.50 761.92,365.50 763.33,365.50 764.75,353.90 766.17,365.50 767.58,353.90 769.00,353.90 770.42,353.90 771.83,365.50 773.25,365.50 774.67,365.50 776.08,365.50 777.50,365.50 778.92,353.90 780.33,353.90 781.75,365.50 783.17,353.90 784.58,353.90 786.00,365.50 787.42,353.90 788.83,353.90 790.25,353.90 791.67,365.50 793.08,353.90 794.50,353.90 795.92,353.90 797.33,353.90 798.75,353.90 800.17,365.50 801.58,353.90 803.00,353.90 804.42,353.90 805.83,353.90 807.25,342.30 808.67,342.30 810.08,342.30 811.50,353.90 812.92,353.90 814.33,342.30 815.75,353.90 817.17,353.90 818.58,365.50 820.00,365.50 821.42,353.90 822.83,353.90 824.25,353.90 825.67,342.30 827.08,342.30 828.50,353.90 829.92,342.30 831.33,353.90 832.75,353.90 834.17,353.90 835.58,365.50 837.00,353.90 838.42,353.90 839.83,353.90 841.25,353.90 842.67,365.50 844.08,365.50 845.50,365.50 846.92,353.90 848.33,342.30 849.75,342.30 851.17,353.90 852.58,342.30 854.00,342.30 855.42,353.90 856.83,365.50 858.25,353.90 859.67,353.90 861.08,365.50 862.50,365.50 863.92,353.90 865.33,342.30 866.75,353.90 868.17,342.30 869.58,353.90 871.00,342.30 872.42,353.90 873.83,353.90 875.25,342.30 876.67,342.30 878.08,342.30 879.50,342.30 880.92,353.90 882.33,353.90 883.75,365.50 885.17,353.90 886.58,353.90 888.00,353.90 889.42,353.90 890.83,353.90 892.25,353.90 893.67,353.90 895.08,353.90 896.50,353.90 897.92,353.90 899.33,353.90 900.75,353.90 902.17,353.90 903.58,342.30 905.00,353.90 906.42,353.90 907.83,342.30 909.25,342.30 910.67,353.90 912.08,353.90 913.50,342.30 914.92,353.90 916.33,353.90 917.75,353.90 919.17,353.90 920.58,353.90 922.00,353.90 923.42,353.90 924.83,353.90 926.25,342.30 927.67,342.30 929.08,342.30 930.50,353.90 931.92,342.30 933.33,353.90 934.75,353.90 936.17,342.30 937.58,353.90 939.00,353.90 940.42,353.90 941.83,353.90 943.25,353.90 944.67,342.30 946.08,353.90 947.50,353.90 948.92,353.90 950.33,353.90 951.75,365.50 953.17,365.50 954.58,353.90 956.00,353.90 957.42,353.90 958.83,353.90 960.25,353.90 961.67,353.90 963.08,353.90 964.50,353.90" fill="none" stroke="#ff0000" stroke-width="0.8" stroke-linejoin="round"/>
<rect x="556.5" y="249.5" width="408.0" height="116.0" fill="none" stroke="#707070" stroke-width="1"/>
<line x1="91.50" y1="419.5" x2="91.50" y2="535.5" stroke="rgba(155,155,155,0.64)" stroke-width="1"/>
<line x1="125.50" y1="419.5" x2="125.50" y2="535.5" stroke="rgba(155,155,155,0.64)" stroke-width="1"/>
<line x1="159.50" y1="419.5" x2="159.50" y2="535.5" stroke="rgba(155,155,155,0.64)" stroke-width="1"/>
<line x1="193.50" y1="419.5" x2="193.50" y2="535.5" stroke="rgba(155,155,155,0.64)" stroke-width="1"/>
<line x1="227.50" y1="419.5" x2="227.50" y2="535.5" stroke="rgba(155,155,155,0.64)" stroke-width="1"/>
<line x1="261.50" y1="419.5" x2="261.50" y2="535.5" stroke="rgba(155,155,155,0.64)" stroke-width="1"/>
<line x1="295.50" y1="419.5" x2="295.50" y2="535.5" stroke="rgba(155,155,155,0.64)" stroke-width="1"/>
<line x1="329.50" y1="419.5" x2="329.50" y2="535.5" stroke="rgba(155,155,155,0.64)" stroke-width="1"/>
<line x1="363.50" y1="419.5" x2="363.50" y2="535.5" stroke="rgba(155,155,155,0.64)" stroke-width="1"/>
<line x1="397.50" y1="419.5" x2="397.50" y2="535.5" stroke="rgba(155,155,155,0.64)" stroke-width="1"/>
<line x1="431.50" y1="419.5" x2="431.50" y2="535.5" stroke="rgba(155,155,155,0.64)" stroke-width="1"/>
<text x="51.2" y="539" font-size="11.25" text-anchor="end">0.0</text>
<line x1="57.5" y1="523.50" x2="465.5" y2="523.50" stroke="rgba(155,155,155,0.64)" stroke-width="1"/>
<text x="51.2" y="528" font-size="11.25" text-anchor="end">0.01</text>
<line x1="57.5" y1="512.50" x2="465.5" y2="512.50" stroke="rgba(155,155,155,0.64)" stroke-width="1"/>
<text x="51.2" y="516" font-size="11.25" text-anchor="end">0.02</text>
<line x1="57.5" y1="500.50" x2="465.5" y2="500.50" stroke="rgba(155,155,155,0.64)" stroke-width="1"/>
<text x="51.2" y="505" font-size="11.25" text-anchor="end">0.03</text>
<line x1="57.5" y1="489.00" x2="465.5" y2="489.00" stroke="rgba(155,155,155,0.64)" stroke-width="1"/>
<text x="51.2" y="493" font-size="11.25" text-anchor="end">0.04</text>
<line x1="57.5" y1="477.50" x2="465.5" y2="477.50" stroke="rgba(155,155,155,0.64)" stroke-width="1"/>
<text x="51.2" y="481" font-size="11.25" text-anchor="end">0.05</text>
<line x1="57.5" y1="466.00" x2="465.5" y2="466.00" stroke="rgba(155,155,155,0.64)" stroke-width="1"/>
<text x="51.2" y="470" font-size="11.25" text-anchor="end">0.06</text>
<line x1="57.5" y1="454.50" x2="465.5" y2="454.50" stroke="rgba(155,155,155,0.64)" stroke-width="1"/>
<text x="51.2" y="458" font-size="11.25" text-anchor="end">0.07</text>
<line x1="57.5" y1="442.50" x2="465.5" y2="442.50" stroke="rgba(155,155,155,0.64)" stroke-width="1"/>
<text x="51.2" y="447" font-size="11.25" text-anchor="end">0.08</text>
<line x1="57.5" y1="431.50" x2="465.5" y2="431.50" stroke="rgba(155,155,155,0.64)" stroke-width="1"/>
<text x="51.2" y="435" font-size="11.25" text-anchor="end">0.09</text>
<text x="51.2" y="424" font-size="11.25" text-anchor="end">0.1</text>
<text x="58.00" y="550.0" font-size="11.25" text-anchor="middle" stroke="#000" stroke-width="0.35">0</text>
<text x="92.00" y="550.0" font-size="11.25" text-anchor="middle">2</text>
<text x="126.00" y="550.0" font-size="11.25" text-anchor="middle">4</text>
<text x="160.00" y="550.0" font-size="11.25" text-anchor="middle">6</text>
<text x="194.00" y="550.0" font-size="11.25" text-anchor="middle">8</text>
<text x="228.00" y="550.0" font-size="11.25" text-anchor="middle">10</text>
<text x="262.00" y="550.0" font-size="11.25" text-anchor="middle">12</text>
<text x="296.00" y="550.0" font-size="11.25" text-anchor="middle">14</text>
<text x="330.00" y="550.0" font-size="11.25" text-anchor="middle">16</text>
<text x="364.00" y="550.0" font-size="11.25" text-anchor="middle">18</text>
<text x="398.00" y="550.0" font-size="11.25" text-anchor="middle">20</text>
<text x="432.00" y="550.0" font-size="11.25" text-anchor="middle">22</text>
<text x="466.00" y="550.0" font-size="11.25" text-anchor="middle">24</text>
<text x="262.2" y="406.0" font-size="15.55" text-anchor="middle">24 hour Accumulated Rainfall</text>
<text transform="translate(22.5,477.5) rotate(-90)" font-size="14" text-anchor="middle">Inches</text>
<line x1="465.5" y1="419.5" x2="465.5" y2="535.5" stroke="rgba(155,155,155,0.64)" stroke-width="1"/><rect x="57.5" y="419.5" width="408.5" height="116.0" fill="none" stroke="#707070" stroke-width="1"/>
<line x1="57.5" y1="535.5" x2="465.0" y2="535.5" stroke="#ff0000" stroke-opacity="0.72" stroke-width="1"/>
<line x1="590.50" y1="419.5" x2="590.50" y2="535.5" stroke="rgba(155,155,155,0.64)" stroke-width="1"/>
<line x1="624.50" y1="419.5" x2="624.50" y2="535.5" stroke="rgba(155,155,155,0.64)" stroke-width="1"/>
<line x1="658.50" y1="419.5" x2="658.50" y2="535.5" stroke="rgba(155,155,155,0.64)" stroke-width="1"/>
<line x1="692.50" y1="419.5" x2="692.50" y2="535.5" stroke="rgba(155,155,155,0.64)" stroke-width="1"/>
<line x1="726.50" y1="419.5" x2="726.50" y2="535.5" stroke="rgba(155,155,155,0.64)" stroke-width="1"/>
<line x1="760.50" y1="419.5" x2="760.50" y2="535.5" stroke="rgba(155,155,155,0.64)" stroke-width="1"/>
<line x1="794.50" y1="419.5" x2="794.50" y2="535.5" stroke="rgba(155,155,155,0.64)" stroke-width="1"/>
<line x1="828.50" y1="419.5" x2="828.50" y2="535.5" stroke="rgba(155,155,155,0.64)" stroke-width="1"/>
<line x1="862.50" y1="419.5" x2="862.50" y2="535.5" stroke="rgba(155,155,155,0.64)" stroke-width="1"/>
<line x1="896.50" y1="419.5" x2="896.50" y2="535.5" stroke="rgba(155,155,155,0.64)" stroke-width="1"/>
<line x1="930.50" y1="419.5" x2="930.50" y2="535.5" stroke="rgba(155,155,155,0.64)" stroke-width="1"/>
<text x="550.2" y="539" font-size="11.25" text-anchor="end">0</text>
<line x1="556.5" y1="521.00" x2="964.5" y2="521.00" stroke="rgba(155,155,155,0.64)" stroke-width="1"/>
<text x="550.2" y="525" font-size="11.25" text-anchor="end">45</text>
<line x1="556.5" y1="506.50" x2="964.5" y2="506.50" stroke="rgba(155,155,155,0.64)" stroke-width="1"/>
<text x="550.2" y="510" font-size="11.25" text-anchor="end">90</text>
<line x1="556.5" y1="492.00" x2="964.5" y2="492.00" stroke="rgba(155,155,155,0.64)" stroke-width="1"/>
<text x="550.2" y="496" font-size="11.25" text-anchor="end">135</text>
<line x1="556.5" y1="477.50" x2="964.5" y2="477.50" stroke="rgba(155,155,155,0.64)" stroke-width="1"/>
<text x="550.2" y="481" font-size="11.25" text-anchor="end">180</text>
<line x1="556.5" y1="463.00" x2="964.5" y2="463.00" stroke="rgba(155,155,155,0.64)" stroke-width="1"/>
<text x="550.2" y="467" font-size="11.25" text-anchor="end">225</text>
<line x1="556.5" y1="448.50" x2="964.5" y2="448.50" stroke="rgba(155,155,155,0.64)" stroke-width="1"/>
<text x="550.2" y="453" font-size="11.25" text-anchor="end">270</text>
<line x1="556.5" y1="434.50" x2="964.5" y2="434.50" stroke="rgba(155,155,155,0.64)" stroke-width="1"/>
<text x="550.2" y="438" font-size="11.25" text-anchor="end">315</text>
<text x="550.2" y="424" font-size="11.25" text-anchor="end">360</text>
<text x="557.00" y="550.0" font-size="11.25" text-anchor="middle" stroke="#000" stroke-width="0.35">0</text>
<text x="591.00" y="550.0" font-size="11.25" text-anchor="middle">2</text>
<text x="625.00" y="550.0" font-size="11.25" text-anchor="middle">4</text>
<text x="659.00" y="550.0" font-size="11.25" text-anchor="middle">6</text>
<text x="693.00" y="550.0" font-size="11.25" text-anchor="middle">8</text>
<text x="727.00" y="550.0" font-size="11.25" text-anchor="middle">10</text>
<text x="761.00" y="550.0" font-size="11.25" text-anchor="middle">12</text>
<text x="795.00" y="550.0" font-size="11.25" text-anchor="middle">14</text>
<text x="829.00" y="550.0" font-size="11.25" text-anchor="middle">16</text>
<text x="863.00" y="550.0" font-size="11.25" text-anchor="middle">18</text>
<text x="897.00" y="550.0" font-size="11.25" text-anchor="middle">20</text>
<text x="931.00" y="550.0" font-size="11.25" text-anchor="middle">22</text>
<text x="965.00" y="550.0" font-size="11.25" text-anchor="middle">24</text>
<text x="761.2" y="406.0" font-size="15.55" text-anchor="middle">Wind Direction</text>
<text transform="translate(521.0,477.5) rotate(-90)" font-size="14" text-anchor="middle">degrees</text>
<text x="761.0" y="568.5" font-size="15.55" text-anchor="middle">Local Time (hour)</text>
<rect x="556.5" y="419.5" width="408.0" height="116.0" fill="none" stroke="#707070" stroke-width="1"/>
<g fill="#ff0000"><circle cx="634.41" cy="427.05" r="1.2"/><circle cx="635.83" cy="427.05" r="1.2"/><circle cx="637.25" cy="427.05" r="1.2"/><circle cx="638.66" cy="427.05" r="1.2"/><circle cx="685.77" cy="427.05" r="1.2"/><circle cx="687.18" cy="427.05" r="1.2"/><circle cx="688.60" cy="427.05" r="1.2"/><circle cx="690.02" cy="427.05" r="1.2"/><circle cx="691.43" cy="427.05" r="1.2"/><circle cx="692.85" cy="427.05" r="1.2"/><circle cx="694.27" cy="427.05" r="1.2"/><circle cx="695.68" cy="427.05" r="1.2"/><circle cx="697.10" cy="427.05" r="1.2"/><circle cx="698.52" cy="427.05" r="1.2"/><circle cx="586.43" cy="434.30" r="1.2"/><circle cx="617.33" cy="434.30" r="1.2"/><circle cx="620.48" cy="434.30" r="1.2"/><circle cx="640.28" cy="434.30" r="1.2"/><circle cx="641.70" cy="434.30" r="1.2"/><circle cx="670.63" cy="434.30" r="1.2"/><circle cx="672.04" cy="434.30" r="1.2"/><circle cx="673.46" cy="434.30" r="1.2"/><circle cx="674.88" cy="434.30" r="1.2"/><circle cx="676.29" cy="434.30" r="1.2"/><circle cx="557.97" cy="441.55" r="1.2"/><circle cx="559.38" cy="441.55" r="1.2"/><circle cx="563.48" cy="441.55" r="1.2"/><circle cx="564.90" cy="441.55" r="1.2"/><circle cx="566.32" cy="441.55" r="1.2"/><circle cx="567.73" cy="441.55" r="1.2"/><circle cx="569.15" cy="441.55" r="1.2"/><circle cx="570.57" cy="441.55" r="1.2"/><circle cx="571.98" cy="441.55" r="1.2"/><circle cx="573.40" cy="441.55" r="1.2"/><circle cx="574.82" cy="441.55" r="1.2"/><circle cx="583.45" cy="441.55" r="1.2"/><circle cx="584.87" cy="441.55" r="1.2"/><circle cx="587.92" cy="441.55" r="1.2"/><circle cx="590.35" cy="441.55" r="1.2"/><circle cx="591.77" cy="441.55" r="1.2"/><circle cx="596.33" cy="441.55" r="1.2"/><circle cx="597.75" cy="441.55" r="1.2"/><circle cx="599.17" cy="441.55" r="1.2"/><circle cx="600.58" cy="441.55" r="1.2"/><circle cx="602.00" cy="441.55" r="1.2"/><circle cx="603.42" cy="441.55" r="1.2"/><circle cx="605.90" cy="441.55" r="1.2"/><circle cx="608.92" cy="441.55" r="1.2"/><circle cx="610.34" cy="441.55" r="1.2"/><circle cx="611.76" cy="441.55" r="1.2"/><circle cx="613.17" cy="441.55" r="1.2"/><circle cx="616.20" cy="441.55" r="1.2"/><circle cx="619.34" cy="441.55" r="1.2"/><circle cx="621.95" cy="441.55" r="1.2"/><circle cx="623.37" cy="441.55" r="1.2"/><circle cx="643.52" cy="441.55" r="1.2"/><circle cx="644.93" cy="441.55" r="1.2"/><circle cx="646.35" cy="441.55" r="1.2"/><circle cx="647.77" cy="441.55" r="1.2"/><circle cx="649.18" cy="441.55" r="1.2"/><circle cx="650.60" cy="441.55" r="1.2"/><circle cx="652.02" cy="441.55" r="1.2"/><circle cx="653.43" cy="441.55" r="1.2"/><circle cx="654.85" cy="441.55" r="1.2"/><circle cx="656.27" cy="441.55" r="1.2"/><circle cx="659.49" cy="441.55" r="1.2"/><circle cx="667.17" cy="441.55" r="1.2"/><circle cx="668.58" cy="441.55" r="1.2"/><circle cx="678.40" cy="441.55" r="1.2"/><circle cx="679.81" cy="441.55" r="1.2"/><circle cx="681.23" cy="441.55" r="1.2"/><circle cx="682.65" cy="441.55" r="1.2"/><circle cx="684.06" cy="441.55" r="1.2"/><circle cx="576.35" cy="448.80" r="1.2"/><circle cx="577.77" cy="448.80" r="1.2"/><circle cx="579.19" cy="448.80" r="1.2"/><circle cx="580.60" cy="448.80" r="1.2"/><circle cx="582.02" cy="448.80" r="1.2"/><circle cx="589.05" cy="448.80" r="1.2"/><circle cx="593.49" cy="448.80" r="1.2"/><circle cx="594.91" cy="448.80" r="1.2"/><circle cx="614.71" cy="448.80" r="1.2"/><circle cx="624.58" cy="448.80" r="1.2"/><circle cx="626.04" cy="456.05" r="1.2"/><circle cx="627.46" cy="456.05" r="1.2"/><circle cx="628.88" cy="456.05" r="1.2"/><circle cx="631.90" cy="456.05" r="1.2"/><circle cx="633.32" cy="456.05" r="1.2"/><circle cx="556.58" cy="535.80" r="1.2"/><circle cx="560.67" cy="535.80" r="1.2"/><circle cx="562.09" cy="535.80" r="1.2"/><circle cx="567.84" cy="535.80" r="1.2"/><circle cx="577.88" cy="535.80" r="1.2"/><circle cx="604.76" cy="535.80" r="1.2"/><circle cx="607.73" cy="535.80" r="1.2"/><circle cx="630.08" cy="535.80" r="1.2"/><circle cx="657.31" cy="535.80" r="1.2"/><circle cx="661.38" cy="535.80" r="1.2"/><circle cx="662.80" cy="535.80" r="1.2"/><circle cx="664.22" cy="535.80" r="1.2"/><circle cx="665.63" cy="535.80" r="1.2"/><circle cx="813.08" cy="419.80" r="1.2"/><circle cx="827.48" cy="419.80" r="1.2"/><circle cx="834.37" cy="419.80" r="1.2"/><circle cx="835.79" cy="419.80" r="1.2"/><circle cx="691.25" cy="427.05" r="1.2"/><circle cx="692.67" cy="427.05" r="1.2"/><circle cx="694.08" cy="427.05" r="1.2"/><circle cx="695.50" cy="427.05" r="1.2"/><circle cx="696.92" cy="427.05" r="1.2"/><circle cx="698.33" cy="427.05" r="1.2"/><circle cx="699.75" cy="427.05" r="1.2"/><circle cx="743.68" cy="427.05" r="1.2"/><circle cx="763.59" cy="427.05" r="1.2"/><circle cx="807.41" cy="427.05" r="1.2"/><circle cx="824.43" cy="427.05" r="1.2"/><circle cx="701.26" cy="434.30" r="1.2"/><circle cx="730.94" cy="434.30" r="1.2"/><circle cx="764.98" cy="434.30" r="1.2"/><circle cx="702.48" cy="448.80" r="1.2"/><circle cx="734.95" cy="448.80" r="1.2"/><circle cx="786.34" cy="448.80" r="1.2"/><circle cx="787.76" cy="448.80" r="1.2"/><circle cx="789.17" cy="448.80" r="1.2"/><circle cx="790.59" cy="448.80" r="1.2"/><circle cx="705.60" cy="456.05" r="1.2"/><circle cx="707.02" cy="456.05" r="1.2"/><circle cx="708.44" cy="456.05" r="1.2"/><circle cx="733.82" cy="456.05" r="1.2"/><circle cx="736.53" cy="456.05" r="1.2"/><circle cx="783.39" cy="456.05" r="1.2"/><circle cx="784.81" cy="456.05" r="1.2"/><circle cx="732.34" cy="463.30" r="1.2"/><circle cx="739.47" cy="463.30" r="1.2"/><circle cx="740.89" cy="463.30" r="1.2"/><circle cx="742.31" cy="463.30" r="1.2"/><circle cx="780.34" cy="463.30" r="1.2"/><circle cx="781.75" cy="463.30" r="1.2"/><circle cx="791.94" cy="463.30" r="1.2"/><circle cx="793.35" cy="463.30" r="1.2"/><circle cx="794.77" cy="463.30" r="1.2"/><circle cx="709.64" cy="470.55" r="1.2"/><circle cx="711.05" cy="470.55" r="1.2"/><circle cx="712.47" cy="470.55" r="1.2"/><circle cx="713.89" cy="470.55" r="1.2"/><circle cx="715.30" cy="470.55" r="1.2"/><circle cx="716.72" cy="470.55" r="1.2"/><circle cx="718.14" cy="470.55" r="1.2"/><circle cx="719.55" cy="470.55" r="1.2"/><circle cx="720.97" cy="470.55" r="1.2"/><circle cx="722.39" cy="470.55" r="1.2"/><circle cx="737.84" cy="470.55" r="1.2"/><circle cx="767.74" cy="470.55" r="1.2"/><circle cx="769.15" cy="470.55" r="1.2"/><circle cx="770.57" cy="470.55" r="1.2"/><circle cx="771.99" cy="470.55" r="1.2"/><circle cx="773.40" cy="470.55" r="1.2"/><circle cx="776.05" cy="470.55" r="1.2"/><circle cx="777.47" cy="470.55" r="1.2"/><circle cx="778.88" cy="470.55" r="1.2"/><circle cx="796.22" cy="470.55" r="1.2"/><circle cx="797.64" cy="470.55" r="1.2"/><circle cx="725.35" cy="477.80" r="1.2"/><circle cx="747.87" cy="477.80" r="1.2"/><circle cx="723.78" cy="485.05" r="1.2"/><circle cx="745.16" cy="485.05" r="1.2"/><circle cx="746.57" cy="485.05" r="1.2"/><circle cx="799.00" cy="492.30" r="1.2"/><circle cx="800.41" cy="492.30" r="1.2"/><circle cx="801.83" cy="492.30" r="1.2"/><circle cx="803.25" cy="492.30" r="1.2"/><circle cx="726.48" cy="499.55" r="1.2"/><circle cx="727.89" cy="499.55" r="1.2"/><circle cx="729.37" cy="506.80" r="1.2"/><circle cx="749.27" cy="514.05" r="1.2"/><circle cx="823.12" cy="521.30" r="1.2"/><circle cx="828.59" cy="521.30" r="1.2"/><circle cx="830.00" cy="521.30" r="1.2"/><circle cx="831.42" cy="521.30" r="1.2"/><circle cx="832.84" cy="521.30" r="1.2"/><circle cx="750.76" cy="528.55" r="1.2"/><circle cx="752.18" cy="528.55" r="1.2"/><circle cx="753.59" cy="528.55" r="1.2"/><circle cx="755.01" cy="528.55" r="1.2"/><circle cx="756.43" cy="528.55" r="1.2"/><circle cx="757.84" cy="528.55" r="1.2"/><circle cx="759.26" cy="528.55" r="1.2"/><circle cx="760.68" cy="528.55" r="1.2"/><circle cx="762.09" cy="528.55" r="1.2"/><circle cx="804.34" cy="528.55" r="1.2"/><circle cx="805.76" cy="528.55" r="1.2"/><circle cx="809.32" cy="528.55" r="1.2"/><circle cx="810.73" cy="528.55" r="1.2"/><circle cx="814.60" cy="528.55" r="1.2"/><circle cx="816.02" cy="528.55" r="1.2"/><circle cx="817.43" cy="528.55" r="1.2"/><circle cx="818.85" cy="528.55" r="1.2"/><circle cx="820.27" cy="528.55" r="1.2"/><circle cx="821.68" cy="528.55" r="1.2"/><circle cx="825.91" cy="528.55" r="1.2"/><circle cx="829.93" cy="528.55" r="1.2"/><circle cx="696.90" cy="535.80" r="1.2"/><circle cx="703.97" cy="535.80" r="1.2"/><circle cx="766.03" cy="535.80" r="1.2"/><circle cx="774.76" cy="535.80" r="1.2"/><circle cx="834.31" cy="419.80" r="1.2"/><circle cx="835.73" cy="419.80" r="1.2"/><circle cx="837.15" cy="419.80" r="1.2"/><circle cx="852.04" cy="419.80" r="1.2"/><circle cx="853.46" cy="419.80" r="1.2"/><circle cx="879.81" cy="419.80" r="1.2"/><circle cx="877.09" cy="434.30" r="1.2"/><circle cx="878.51" cy="434.30" r="1.2"/><circle cx="888.10" cy="434.30" r="1.2"/><circle cx="849.96" cy="456.05" r="1.2"/><circle cx="953.57" cy="456.05" r="1.2"/><circle cx="840.18" cy="463.30" r="1.2"/><circle cx="889.59" cy="463.30" r="1.2"/><circle cx="895.35" cy="463.30" r="1.2"/><circle cx="952.09" cy="463.30" r="1.2"/><circle cx="841.40" cy="470.55" r="1.2"/><circle cx="885.40" cy="470.55" r="1.2"/><circle cx="893.78" cy="470.55" r="1.2"/><circle cx="896.83" cy="470.55" r="1.2"/><circle cx="905.29" cy="470.55" r="1.2"/><circle cx="906.71" cy="470.55" r="1.2"/><circle cx="939.34" cy="470.55" r="1.2"/><circle cx="947.96" cy="470.55" r="1.2"/><circle cx="949.38" cy="470.55" r="1.2"/><circle cx="950.80" cy="470.55" r="1.2"/><circle cx="955.06" cy="470.55" r="1.2"/><circle cx="959.22" cy="470.55" r="1.2"/><circle cx="960.63" cy="470.55" r="1.2"/><circle cx="962.05" cy="470.55" r="1.2"/><circle cx="963.47" cy="470.55" r="1.2"/><circle cx="842.97" cy="477.80" r="1.2"/><circle cx="845.84" cy="477.80" r="1.2"/><circle cx="847.26" cy="477.80" r="1.2"/><circle cx="869.77" cy="477.80" r="1.2"/><circle cx="881.19" cy="477.80" r="1.2"/><circle cx="882.60" cy="477.80" r="1.2"/><circle cx="884.02" cy="477.80" r="1.2"/><circle cx="886.97" cy="477.80" r="1.2"/><circle cx="890.98" cy="477.80" r="1.2"/><circle cx="903.82" cy="477.80" r="1.2"/><circle cx="908.00" cy="477.80" r="1.2"/><circle cx="909.41" cy="477.80" r="1.2"/><circle cx="912.11" cy="477.80" r="1.2"/><circle cx="929.39" cy="477.80" r="1.2"/><circle cx="932.01" cy="477.80" r="1.2"/><circle cx="938.12" cy="477.80" r="1.2"/><circle cx="940.74" cy="477.80" r="1.2"/><circle cx="871.60" cy="485.05" r="1.2"/><circle cx="873.01" cy="485.05" r="1.2"/><circle cx="875.71" cy="485.05" r="1.2"/><circle cx="901.19" cy="485.05" r="1.2"/><circle cx="902.60" cy="485.05" r="1.2"/><circle cx="910.80" cy="485.05" r="1.2"/><circle cx="916.59" cy="485.05" r="1.2"/><circle cx="918.00" cy="485.05" r="1.2"/><circle cx="919.42" cy="485.05" r="1.2"/><circle cx="920.84" cy="485.05" r="1.2"/><circle cx="922.25" cy="485.05" r="1.2"/><circle cx="923.67" cy="485.05" r="1.2"/><circle cx="925.09" cy="485.05" r="1.2"/><circle cx="930.79" cy="485.05" r="1.2"/><circle cx="956.53" cy="485.05" r="1.2"/><circle cx="957.95" cy="485.05" r="1.2"/><circle cx="865.56" cy="492.30" r="1.2"/><circle cx="866.98" cy="492.30" r="1.2"/><circle cx="868.40" cy="492.30" r="1.2"/><circle cx="892.47" cy="492.30" r="1.2"/><circle cx="898.31" cy="492.30" r="1.2"/><circle cx="899.72" cy="492.30" r="1.2"/><circle cx="913.84" cy="492.30" r="1.2"/><circle cx="915.26" cy="492.30" r="1.2"/><circle cx="926.41" cy="492.30" r="1.2"/><circle cx="927.83" cy="492.30" r="1.2"/><circle cx="933.56" cy="492.30" r="1.2"/><circle cx="934.98" cy="492.30" r="1.2"/><circle cx="936.40" cy="492.30" r="1.2"/><circle cx="942.28" cy="492.30" r="1.2"/><circle cx="943.70" cy="492.30" r="1.2"/><circle cx="945.11" cy="492.30" r="1.2"/><circle cx="946.53" cy="492.30" r="1.2"/><circle cx="874.14" cy="499.55" r="1.2"/><circle cx="864.01" cy="506.80" r="1.2"/><circle cx="828.48" cy="521.30" r="1.2"/><circle cx="831.70" cy="521.30" r="1.2"/><circle cx="833.12" cy="521.30" r="1.2"/><circle cx="855.70" cy="521.30" r="1.2"/><circle cx="857.12" cy="521.30" r="1.2"/><circle cx="858.53" cy="521.30" r="1.2"/><circle cx="829.88" cy="528.55" r="1.2"/><circle cx="838.61" cy="528.55" r="1.2"/><circle cx="848.56" cy="528.55" r="1.2"/><circle cx="859.89" cy="528.55" r="1.2"/><circle cx="861.31" cy="528.55" r="1.2"/><circle cx="862.72" cy="528.55" r="1.2"/><circle cx="844.37" cy="535.80" r="1.2"/></g>
<line x1="91.50" y1="589.5" x2="91.50" y2="705.5" stroke="rgba(155,155,155,0.64)" stroke-width="1"/>
<line x1="125.50" y1="589.5" x2="125.50" y2="705.5" stroke="rgba(155,155,155,0.64)" stroke-width="1"/>
<line x1="159.50" y1="589.5" x2="159.50" y2="705.5" stroke="rgba(155,155,155,0.64)" stroke-width="1"/>
<line x1="193.50" y1="589.5" x2="193.50" y2="705.5" stroke="rgba(155,155,155,0.64)" stroke-width="1"/>
<line x1="227.50" y1="589.5" x2="227.50" y2="705.5" stroke="rgba(155,155,155,0.64)" stroke-width="1"/>
<line x1="261.50" y1="589.5" x2="261.50" y2="705.5" stroke="rgba(155,155,155,0.64)" stroke-width="1"/>
<line x1="295.50" y1="589.5" x2="295.50" y2="705.5" stroke="rgba(155,155,155,0.64)" stroke-width="1"/>
<line x1="329.50" y1="589.5" x2="329.50" y2="705.5" stroke="rgba(155,155,155,0.64)" stroke-width="1"/>
<line x1="363.50" y1="589.5" x2="363.50" y2="705.5" stroke="rgba(155,155,155,0.64)" stroke-width="1"/>
<line x1="397.50" y1="589.5" x2="397.50" y2="705.5" stroke="rgba(155,155,155,0.64)" stroke-width="1"/>
<line x1="431.50" y1="589.5" x2="431.50" y2="705.5" stroke="rgba(155,155,155,0.64)" stroke-width="1"/>
<text x="51.2" y="709" font-size="11.25" text-anchor="end">0</text>
<line x1="57.5" y1="689.00" x2="465.5" y2="689.00" stroke="rgba(155,155,155,0.64)" stroke-width="1"/>
<text x="51.2" y="693" font-size="11.25" text-anchor="end">200</text>
<line x1="57.5" y1="672.50" x2="465.5" y2="672.50" stroke="rgba(155,155,155,0.64)" stroke-width="1"/>
<text x="51.2" y="676" font-size="11.25" text-anchor="end">400</text>
<line x1="57.5" y1="656.00" x2="465.5" y2="656.00" stroke="rgba(155,155,155,0.64)" stroke-width="1"/>
<text x="51.2" y="660" font-size="11.25" text-anchor="end">600</text>
<line x1="57.5" y1="639.50" x2="465.5" y2="639.50" stroke="rgba(155,155,155,0.64)" stroke-width="1"/>
<text x="51.2" y="643" font-size="11.25" text-anchor="end">800</text>
<line x1="57.5" y1="622.50" x2="465.5" y2="622.50" stroke="rgba(155,155,155,0.64)" stroke-width="1"/>
<text x="51.2" y="627" font-size="11.25" text-anchor="end">1000</text>
<line x1="57.5" y1="606.50" x2="465.5" y2="606.50" stroke="rgba(155,155,155,0.64)" stroke-width="1"/>
<text x="51.2" y="610" font-size="11.25" text-anchor="end">1200</text>
<text x="51.2" y="594" font-size="11.25" text-anchor="end">1400</text>
<text x="58.00" y="720.0" font-size="11.25" text-anchor="middle" stroke="#000" stroke-width="0.35">0</text>
<text x="92.00" y="720.0" font-size="11.25" text-anchor="middle">2</text>
<text x="126.00" y="720.0" font-size="11.25" text-anchor="middle">4</text>
<text x="160.00" y="720.0" font-size="11.25" text-anchor="middle">6</text>
<text x="194.00" y="720.0" font-size="11.25" text-anchor="middle">8</text>
<text x="228.00" y="720.0" font-size="11.25" text-anchor="middle">10</text>
<text x="262.00" y="720.0" font-size="11.25" text-anchor="middle">12</text>
<text x="296.00" y="720.0" font-size="11.25" text-anchor="middle">14</text>
<text x="330.00" y="720.0" font-size="11.25" text-anchor="middle">16</text>
<text x="364.00" y="720.0" font-size="11.25" text-anchor="middle">18</text>
<text x="398.00" y="720.0" font-size="11.25" text-anchor="middle">20</text>
<text x="432.00" y="720.0" font-size="11.25" text-anchor="middle">22</text>
<text x="466.00" y="720.0" font-size="11.25" text-anchor="middle">24</text>
<text x="262.2" y="576.0" font-size="15.55" text-anchor="middle">Solar Irradiance</text>
<text transform="translate(19.5,647.5) rotate(-90)" font-size="14" text-anchor="middle">W/m<tspan font-size="11" dy="-7">2</tspan></text>
<text x="262.0" y="738.5" font-size="15.55" text-anchor="middle">Local Time (hour)</text>
<line x1="465.5" y1="589.5" x2="465.5" y2="705.5" stroke="rgba(155,155,155,0.64)" stroke-width="1"/><rect x="57.5" y="589.5" width="408.5" height="116.0" fill="none" stroke="#707070" stroke-width="1"/>
<line x1="57.5" y1="705.5" x2="180.00" y2="705.5" stroke="#ff0000" stroke-opacity="0.72" stroke-width="1"/>
<line x1="348.00" y1="705.5" x2="465.0" y2="705.5" stroke="#ff0000" stroke-opacity="0.72" stroke-width="1"/>
<polyline points="180.00,705.50 183.00,704.50 186.00,704.20 188.00,703.70 189.50,701.20 193.50,697.50 200.00,692.50 210.00,684.70 220.00,678.00 227.50,673.20 233.00,670.50 236.50,668.00 239.00,665.20 240.50,665.70 242.00,667.20 243.50,667.50 244.80,670.50 246.00,680.00 246.80,689.00 247.50,696.50 248.50,697.50 250.00,695.50 252.00,695.30 254.50,699.00 256.00,694.50 257.80,692.00 259.00,694.50 260.70,699.00 261.50,690.50 263.00,696.00 264.50,693.50 265.50,694.50 266.20,693.50 267.50,697.00 269.00,697.00 270.00,695.50 272.50,691.00 274.50,685.50 276.00,688.50 277.50,688.50 278.50,684.00 280.00,687.20 282.00,687.50 283.50,689.50 285.50,694.50 288.00,697.00 291.00,699.20 293.50,698.30 295.50,699.70 297.00,695.00 298.00,685.00 299.00,679.00 300.20,678.00 301.50,688.50 302.80,673.50 304.00,678.50 305.20,688.00 306.00,689.50 307.00,688.50 308.50,693.00 310.50,697.00 313.00,699.00 315.00,699.50 317.00,698.00 318.50,693.50 320.00,687.50 321.00,688.50 322.50,693.50 324.50,697.50 327.00,700.00 329.50,700.50 331.00,701.20 333.00,700.30 335.50,701.80 338.00,702.50 342.00,704.00 344.50,704.00 348.00,705.50" fill="none" stroke="#ff0000" stroke-width="1.0" stroke-linejoin="round"/>
</svg></body></html>
